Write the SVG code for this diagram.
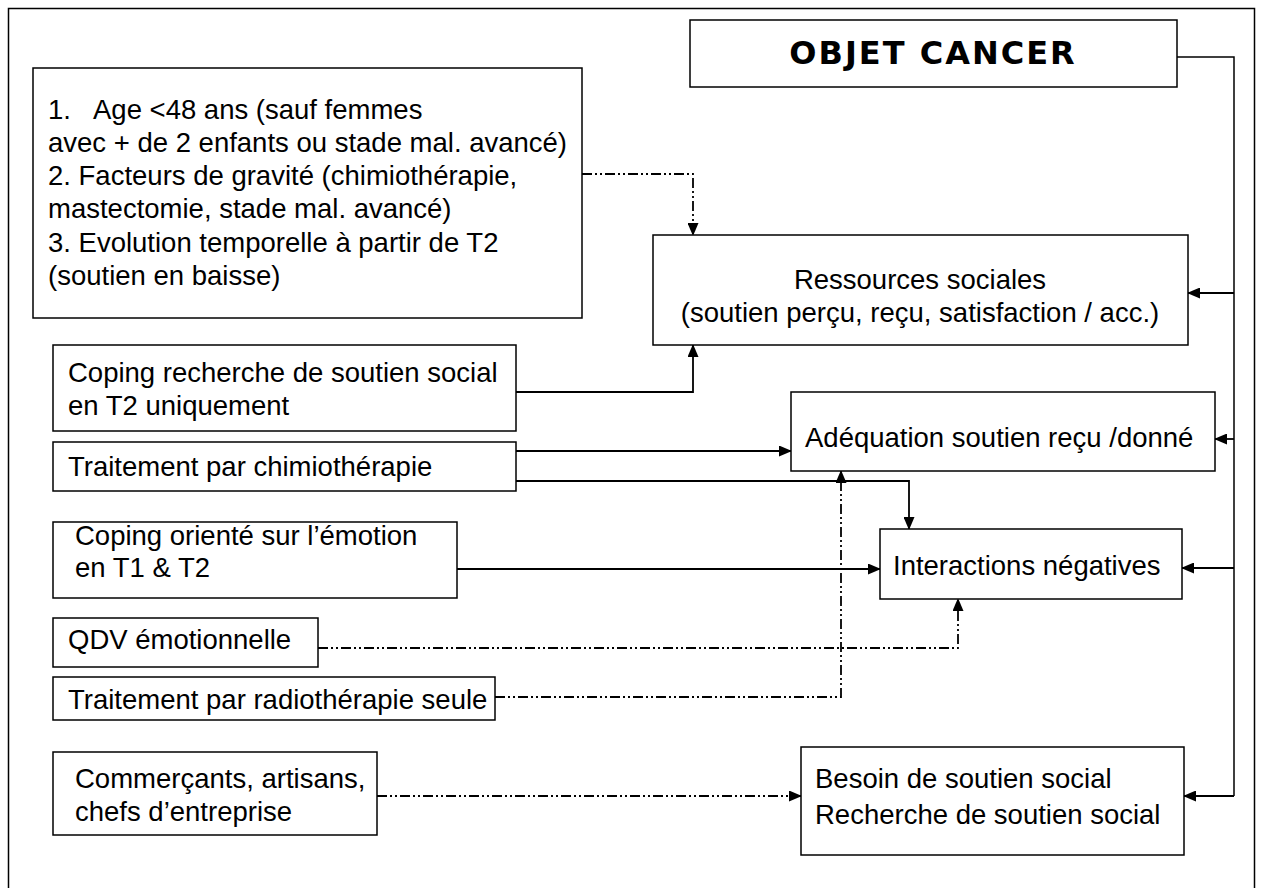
<svg xmlns="http://www.w3.org/2000/svg" width="1264" height="888" viewBox="0 0 1264 888">
<defs>
<marker id="ah" markerWidth="13" markerHeight="11" refX="12" refY="5.5" orient="auto" markerUnits="userSpaceOnUse">
<path d="M0,0 L13,5.5 L0,11 Z" fill="#000"/>
</marker>
<style>
.box{fill:#fff;stroke:#000;stroke-width:1.5}
.t{font-family:"Liberation Sans",Arial,sans-serif;font-size:27.5px;fill:#000}
.tb{font-family:"DejaVu Sans",Verdana,sans-serif;font-size:32px;font-weight:bold;letter-spacing:2px;fill:#000}
.c{fill:none;stroke:#000;stroke-width:1.8;marker-end:url(#ah)}
.d{fill:none;stroke:#000;stroke-width:1.8;stroke-dasharray:10 3 2 3 2 3;marker-end:url(#ah)}
.l{fill:none;stroke:#000;stroke-width:1.5}
</style>
</defs>
<rect x="8.5" y="8.5" width="1246" height="895" fill="#fff" stroke="#000" stroke-width="1.5"/>

<g id="connectors">
<path class="l" d="M1177,57 H1234 V796"/>
<path class="c" d="M1234,293 H1188"/>
<path class="c" d="M1234,439 H1215"/>
<path class="c" d="M1234,568 H1182"/>
<path class="c" d="M1234,796 H1184"/>
<path class="d" d="M582,174 H693 V235"/>
<path class="c" d="M516,392 H693 V345"/>
<path class="c" d="M516,451 H791"/>
<path class="c" d="M516,481 H909 V529"/>
<path class="c" d="M457,569 H880"/>
<path class="d" d="M318,648 H958 V599"/>
<path class="d" d="M495,697 H841 V471"/>
<path class="d" d="M377,796 H801"/>
</g>

<g id="objet">
<rect class="box" x="690" y="20" width="487" height="67"/>
<text class="tb" x="933" y="64" text-anchor="middle">OBJET CANCER</text>
</g>
<g id="facteurs">
<rect class="box" x="33" y="68" width="549" height="250"/>
<text class="t" x="48" y="119">1.<tspan x="93">Age &lt;48 ans (sauf femmes</tspan></text>
<text class="t" x="48" y="152">avec + de 2 enfants ou stade mal. avancé)</text>
<text class="t" x="48" y="185">2. Facteurs de gravité (chimiothérapie,</text>
<text class="t" x="48" y="218">mastectomie, stade mal. avancé)</text>
<text class="t" x="48" y="252">3. Evolution temporelle à partir de T2</text>
<text class="t" x="48" y="285">(soutien en baisse)</text>
</g>
<g id="ressources">
<rect class="box" x="653" y="235" width="535" height="110"/>
<text class="t" x="920" y="289" text-anchor="middle">Ressources sociales</text>
<text class="t" x="920" y="322" text-anchor="middle">(soutien perçu, reçu, satisfaction / acc.)</text>
</g>
<g id="coping-recherche">
<rect class="box" x="53" y="345" width="463" height="86"/>
<text class="t" x="68" y="382">Coping recherche de soutien social</text>
<text class="t" x="68" y="415">en T2 uniquement</text>
</g>
<g id="chimio">
<rect class="box" x="53" y="442" width="463" height="49"/>
<text class="t" x="68" y="476">Traitement par chimiothérapie</text>
</g>
<g id="adequation">
<rect class="box" x="791" y="392" width="424" height="79"/>
<text class="t" x="805" y="447">Adéquation soutien reçu /donné</text>
</g>
<g id="coping-emotion">
<rect class="box" x="53" y="522" width="404" height="76"/>
<text class="t" x="75" y="545">Coping orienté sur l’émotion</text>
<text class="t" x="75" y="577">en T1 &amp; T2</text>
</g>
<g id="interactions">
<rect class="box" x="880" y="529" width="302" height="70"/>
<text class="t" x="893" y="575">Interactions négatives</text>
</g>
<g id="qdv">
<rect class="box" x="53" y="618" width="265" height="49"/>
<text class="t" x="68" y="649">QDV émotionnelle</text>
</g>
<g id="radio">
<rect class="box" x="53" y="677" width="442" height="43"/>
<text class="t" x="68" y="709">Traitement par radiothérapie seule</text>
</g>
<g id="commercants">
<rect class="box" x="53" y="752" width="324" height="83"/>
<text class="t" x="75" y="788">Commerçants, artisans,</text>
<text class="t" x="75" y="821">chefs d’entreprise</text>
</g>
<g id="besoin">
<rect class="box" x="801" y="747" width="383" height="108"/>
<text class="t" x="815" y="788">Besoin de soutien social</text>
<text class="t" x="815" y="824">Recherche de soutien social</text>
</g>
</svg>
